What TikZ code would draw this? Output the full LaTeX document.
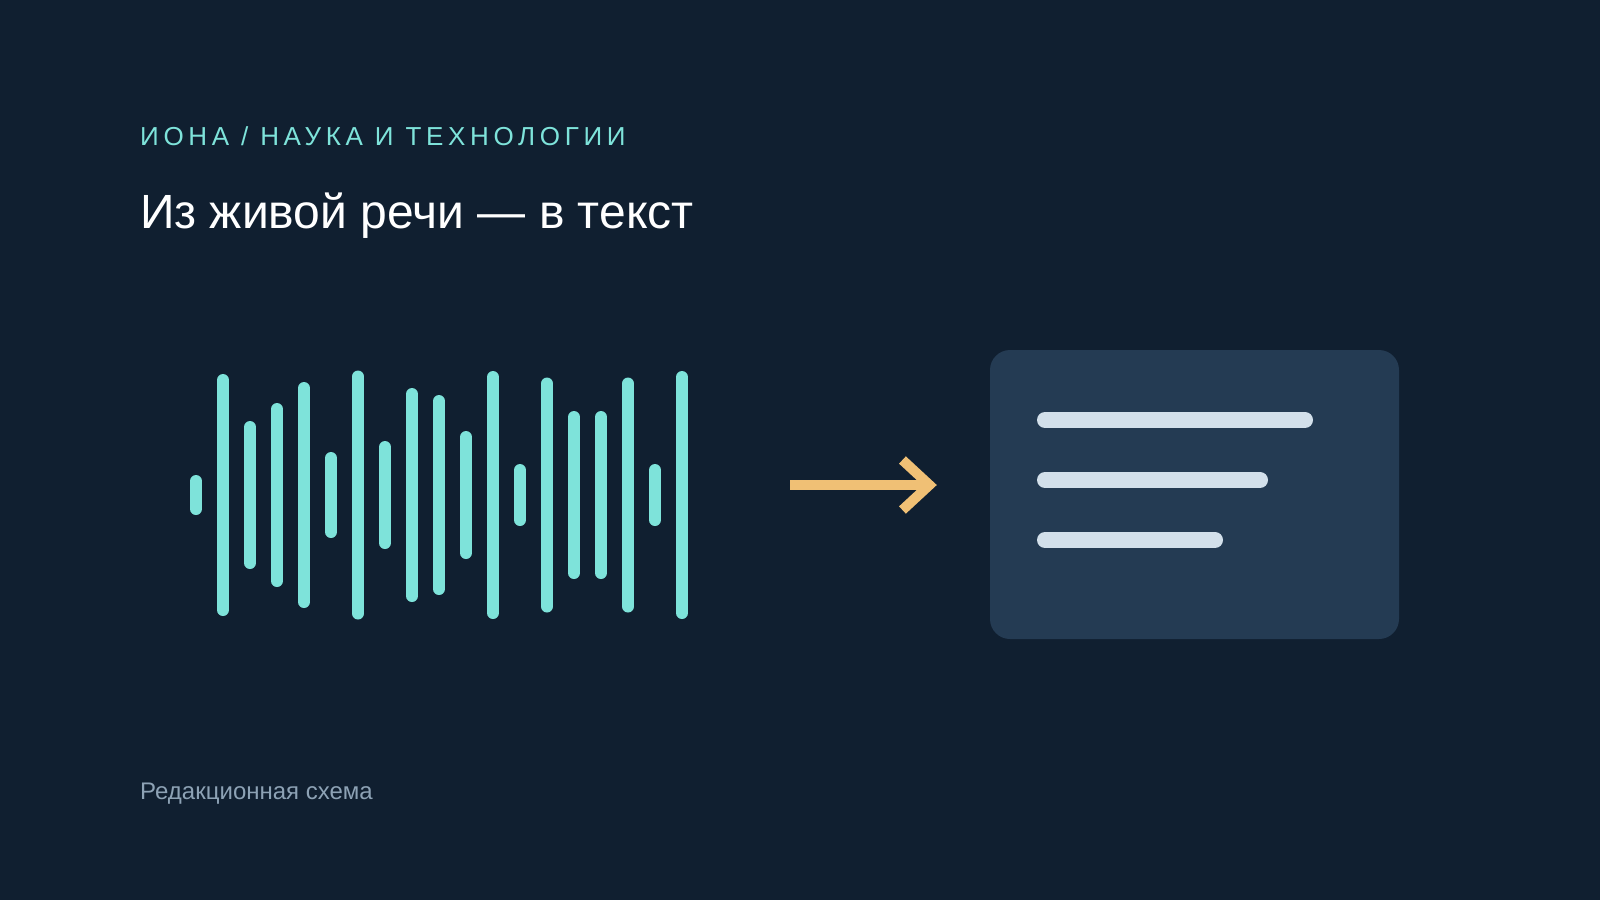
\documentclass[tikz,border=0pt]{standalone}
\usepackage{fontspec}
\setmainfont{Liberation Sans}
\usetikzlibrary{arrows.meta}
\definecolor{bgnavy}{HTML}{101F30}
\definecolor{cardblue}{HTML}{243B53}
\definecolor{wavecyan}{HTML}{7EE3DA}
\definecolor{arroworange}{HTML}{F0C075}
\definecolor{linegray}{HTML}{D3E0EB}
\definecolor{footgray}{HTML}{8DA2B5}

\begin{document}
\begin{tikzpicture}[x=1pt,y=-1pt,
	label/.style={anchor=base west,inner sep=0pt},
	bar/.style={wavecyan,line width=12pt,line cap=round},
	card/.style={fill=cardblue,rounded corners=20pt,minimum width=409pt,minimum height=289pt,inner sep=0pt},
	textline/.style={linegray,line width=16pt,line cap=round},
	flow/.style={arroworange,line width=10pt,-{Straight Barb[length=27pt,width=50pt]},shorten >=53pt}]
	\fill[bgnavy] (0,0) rectangle (1600,900);
	\useasboundingbox (0,0) rectangle (1600,900);
	\node[label,wavecyan,font=\fontsize{26}{30}\selectfont\addfontfeatures{LetterSpace=18}] (kicker) at (140,145) {ИОНА / НАУКА И ТЕХНОЛОГИИ};
	\node[label,white,font=\fontsize{48}{56}\selectfont] (title) at (140,228) {Из живой речи — в текст};
	\node[label,footgray,font=\fontsize{24}{28}\selectfont] (footer) at (140,799) {Редакционная схема};
	\foreach \i/\h in {0/28,1/230,2/136,3/172,4/214,5/74,6/237,7/96,8/202,9/188,10/116,11/236,12/50,13/223,14/156,15/156,16/223,17/50,18/236}
		\draw[bar] ({196+27*\i},{495-\h/2}) -- ({196+27*\i},{495+\h/2});
	\node[card] (card) at (1194.5,494.5) {};
	\foreach \y/\e in {420/1305,480/1260,540/1215}
		\draw[textline] (1045,\y) -- (\e,\y);
	\coordinate (wave) at (790,485);
	\draw[flow] (wave) -- (wave -| card.west);
\end{tikzpicture}
\end{document}
